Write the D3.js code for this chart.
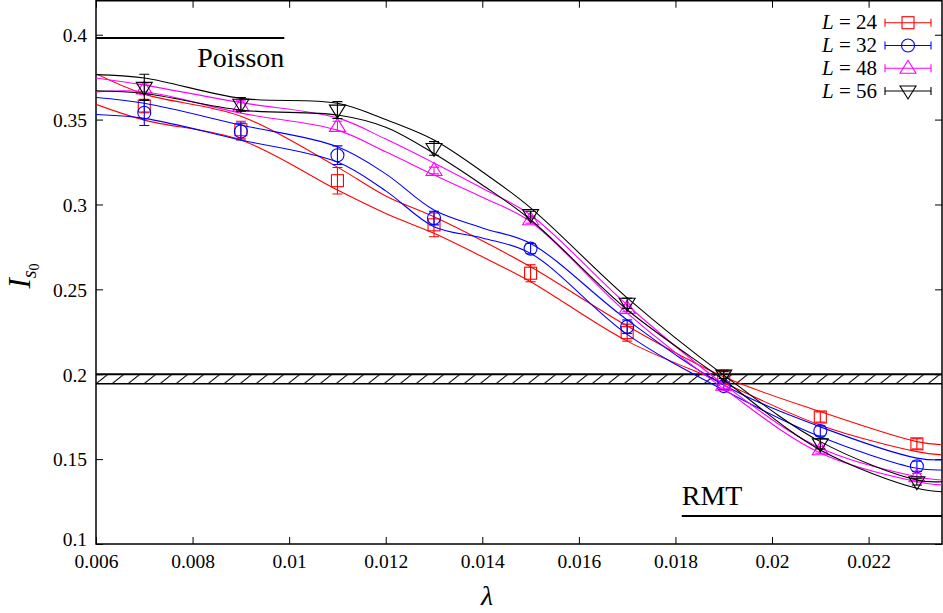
<!DOCTYPE html>
<html><head><meta charset="utf-8">
<script src="https://cdn.jsdelivr.net/npm/d3@7"></script>
<style>body{margin:0;background:#fff} svg{display:block} text{font-family:"Liberation Serif","Times New Roman",serif;fill:#000}</style>
</head><body><svg id="c" width="943" height="613"></svg>
<script>
// ---- data ----
const lambdas = [0.007,0.009,0.011,0.013,0.015,0.017,0.019,0.021,0.023];
const L24 = [0.358,0.344,0.314,0.288,0.2595,0.2245,0.1985,0.1748,0.159];
const L24err = [0.004,0.005,0.0078,0.007,0.005,0.005,0.004,0.003,0.003];
const L32 = [0.354,0.343,0.329,0.292,0.274,0.228,0.193,0.1666,0.1458];
const L32err = [0.0075,0.005,0.0055,0.004,0.003,0.004,0.002,0.003,0.003];
const L48 = [0.368,0.358,0.346,0.320,0.291,0.2388,0.1935,0.1555,0.1396];
const L48err = [0.003,0.003,0.003,0.002,0.002,0.002,0.002,0.002,0.002];
const L56 = [0.369,0.359,0.3556,0.333,0.294,0.2418,0.1995,0.159,0.1367];
const L56err = [0.0077,0.004,0.005,0.004,0.002,0.003,0.002,0.003,0.002];

// fit bands (upper / lower curves)
const curveX = [0.006,0.007,0.009,0.011,0.012,0.013,0.014,0.015,0.017,0.019,0.021,0.023,0.02352];
const L24up = [0.377,0.365,0.352,0.322,0.305,0.2927,0.2786,0.2633,0.2285,0.1985,0.178,0.1603,0.1585];
const L24lo = [0.359,0.3497,0.338,0.3085,0.2947,0.283,0.2692,0.2545,0.2195,0.1948,0.170,0.1544,0.1525];
const L32up = [0.363,0.3596,0.3468,0.334,0.318,0.2967,0.2862,0.277,0.232,0.1936,0.169,0.1506,0.1495];
const L32lo = [0.353,0.3507,0.338,0.325,0.308,0.2869,0.2803,0.2712,0.2235,0.1907,0.1632,0.1446,0.1436];
const L48up = [0.3745,0.3703,0.360,0.351,0.3385,0.3244,0.3095,0.2938,0.2408,0.194,0.1565,0.1396,0.1377];
const L48lo = [0.3663,0.3664,0.3538,0.3438,0.331,0.3173,0.3042,0.2898,0.236,0.1915,0.1536,0.1367,0.1348];
const L56up = [0.3765,0.3745,0.3625,0.3596,0.350,0.338,0.3193,0.298,0.245,0.1995,0.1603,0.1377,0.1367];
const L56lo = [0.367,0.3654,0.3556,0.3527,0.3455,0.330,0.3115,0.291,0.238,0.1966,0.1554,0.1328,0.1308];

const seriesNames = ["L = 24","L = 32","L = 48","L = 56"];
const seriesColors = ["#ff0000","#0000ff","#ff00ff","#000000"];
const xTicks = [0.006,0.008,0.01,0.012,0.014,0.016,0.018,0.02,0.022];
const xTickLabels = ["0.006","0.008","0.01","0.012","0.014","0.016","0.018","0.02","0.022"];
const yTicks = [0.1,0.15,0.2,0.25,0.3,0.35,0.4];
const yTickLabels = ["0.1","0.15","0.2","0.25","0.3","0.35","0.4"];
const poisson = 0.398, poissonEnd = 0.0099;
const rmt = 0.1165, rmtStart = 0.01813;
const bandTop = 0.2, bandBottom = 0.1944;

// ---- chart ----
const svg = d3.select("#c");
const x = d3.scaleLinear().domain([0.006,0.02352]).range([96,942]);
const y = d3.scaleLinear().domain([0.1,0.42]).range([544,0.75]);
const FONT = '"Liberation Serif","Times New Roman",serif';

const defs = svg.append("defs");
const bh = y(bandBottom)-y(bandTop);
const pat = defs.append("pattern").attr("id","hatch").attr("patternUnits","userSpaceOnUse")
  .attr("width",16).attr("height",bh).attr("y",y(bandTop));
pat.append("line").attr("x1",0).attr("y1",bh).attr("x2",12).attr("y2",0)
  .attr("stroke","#000").attr("stroke-width",1);
defs.append("clipPath").attr("id","clip").append("rect")
  .attr("x",x(0.006)).attr("y",y(0.42)).attr("width",x(0.02352)-x(0.006)).attr("height",y(0.1)-y(0.42));

// axes
const fs = 19.5;
const gx = svg.append("g").attr("transform",`translate(0,${y(0.1)})`)
  .call(d3.axisBottom(x).tickValues(xTicks).tickFormat((d,i)=>xTickLabels[i]).tickSize(-7).tickPadding(10));
const gxt = svg.append("g").attr("transform",`translate(0,${y(0.42)})`)
  .call(d3.axisTop(x).tickValues(xTicks).tickFormat("").tickSize(-7));
const gy = svg.append("g").attr("transform",`translate(${x(0.006)},0)`)
  .call(d3.axisLeft(y).tickValues(yTicks).tickFormat((d,i)=>yTickLabels[i]).tickSize(-7).tickPadding(9));
const gyr = svg.append("g").attr("transform",`translate(${x(0.02352)},0)`)
  .call(d3.axisRight(y).tickValues(yTicks).tickFormat("").tickSize(-7));
[gx,gxt,gy,gyr].forEach(g=>{
  g.attr("font-family",FONT);
  g.select(".domain").remove();
  g.selectAll(".tick line").attr("stroke","#000").attr("stroke-width",1);
  g.selectAll("text").attr("font-family",FONT).style("font-size",fs+"px").attr("fill","#000");
});
gx.selectAll("text").attr("dy","0.71em");
gy.selectAll("text").attr("dy",(d,i)=>i===0?"0.1em":"0.35em");

svg.append("rect").attr("x",x(0.006)).attr("y",y(0.42)).attr("width",x(0.02352)-x(0.006))
  .attr("height",y(0.1)-y(0.42)).attr("fill","none").attr("stroke","#000").attr("stroke-width",1.5);

const plot = svg.append("g").attr("clip-path","url(#clip)");

// hatched band
plot.append("rect").attr("x",x(0.006)).attr("y",y(bandTop)).attr("width",x(0.02352)-x(0.006))
  .attr("height",bh).attr("fill","url(#hatch)");
plot.append("line").attr("x1",x(0.006)).attr("x2",x(0.02352)).attr("y1",y(bandTop)).attr("y2",y(bandTop))
  .attr("stroke","#000").attr("stroke-width",2.2);
plot.append("line").attr("x1",x(0.006)).attr("x2",x(0.02352)).attr("y1",y(bandBottom)).attr("y2",y(bandBottom))
  .attr("stroke","#000").attr("stroke-width",1.4);

// Poisson and RMT lines
svg.append("line").attr("x1",x(0.006)).attr("x2",x(poissonEnd)).attr("y1",y(poisson)).attr("y2",y(poisson))
  .attr("stroke","#000").attr("stroke-width",2);
svg.append("text").attr("x",x(poissonEnd)).attr("y",y(poisson)+29).attr("text-anchor","end")
  .attr("font-family",FONT).style("font-size","28px").text("Poisson");
svg.append("line").attr("x1",x(rmtStart)).attr("x2",x(0.02352)).attr("y1",y(rmt)).attr("y2",y(rmt))
  .attr("stroke","#000").attr("stroke-width",2);
svg.append("text").attr("x",x(rmtStart)).attr("y",y(rmt)-11).attr("text-anchor","start")
  .attr("font-family",FONT).style("font-size","28px").text("RMT");

const line = d3.line().x(d=>x(d[0])).y(d=>y(d[1])).curve(d3.curveCatmullRom.alpha(0.5));
const vals = [L24,L32,L48,L56], errs=[L24err,L32err,L48err,L56err];
const ups = [L24up,L32up,L48up,L56up], los = [L24lo,L32lo,L48lo,L56lo];

function marker(g, i, cx, cy){
  const c = seriesColors[i];
  const common = s=>s.attr("fill","none").attr("stroke",c).attr("stroke-width",1.1);
  if(i===0) common(g.append("rect").attr("x",cx-6).attr("y",cy-6).attr("width",12).attr("height",12));
  else if(i===1) common(g.append("circle").attr("cx",cx).attr("cy",cy).attr("r",6.5));
  else if(i===2) common(g.append("path").attr("d",`M${cx-8},${cy+5}L${cx+8},${cy+5}L${cx},${cy-8}Z`));
  else common(g.append("path").attr("d",`M${cx-8},${cy-5}L${cx+8},${cy-5}L${cx},${cy+8}Z`));
}

vals.forEach((v,i)=>{
  const c = seriesColors[i];
  const g = plot.append("g");
  [ups[i],los[i]].forEach(arr=>{
    g.append("path").datum(curveX.map((xx,j)=>[xx,arr[j]])).attr("d",line)
      .attr("fill","none").attr("stroke",c).attr("stroke-width",1.1);
  });
  lambdas.forEach((l,j)=>{
    const px=x(l), py1=y(v[j]+errs[i][j]), py2=y(v[j]-errs[i][j]);
    g.append("line").attr("x1",px).attr("x2",px).attr("y1",py1).attr("y2",py2).attr("stroke",c).attr("stroke-width",1.1);
    [py1,py2].forEach(py=>g.append("line").attr("x1",px-5).attr("x2",px+5).attr("y1",py).attr("y2",py).attr("stroke",c).attr("stroke-width",1.1));
    marker(g,i,px,y(v[j]));
  });
});

// legend
const legY = [22.7,45.5,68.3,91];
seriesNames.forEach((n,i)=>{
  const c = seriesColors[i];
  const t = svg.append("text").attr("x",877).attr("y",legY[i]+6.5).attr("text-anchor","end")
    .attr("font-family",FONT).style("font-size","21px");
  t.append("tspan").style("font-style","italic").text(n.split(" ")[0]);
  t.append("tspan").text(" " + n.split(" ").slice(1).join(" "));
  svg.append("line").attr("x1",885).attr("x2",931).attr("y1",legY[i]).attr("y2",legY[i]).attr("stroke",c).attr("stroke-width",1.1);
  [885,931].forEach(xx=>svg.append("line").attr("x1",xx).attr("x2",xx).attr("y1",legY[i]-4).attr("y2",legY[i]+4).attr("stroke",c).attr("stroke-width",1.1));
  marker(svg,i,908,legY[i]);
});

// axis titles
svg.append("text").attr("x",x(0.0141)).attr("y",605).attr("text-anchor","middle")
  .attr("font-family",FONT).style("font-size","28px").style("font-style","italic").text("λ");
const yl = svg.append("text").attr("transform","translate(30,276) rotate(-90)").attr("text-anchor","middle")
  .attr("font-family",FONT);
yl.append("tspan").style("font-size","31px").style("font-style","italic").text("I");
yl.append("tspan").style("font-size","20px").style("font-style","italic").attr("dy",6).text("s");
yl.append("tspan").style("font-size","14px").attr("dy",3).text("0");
</script></body></html>
